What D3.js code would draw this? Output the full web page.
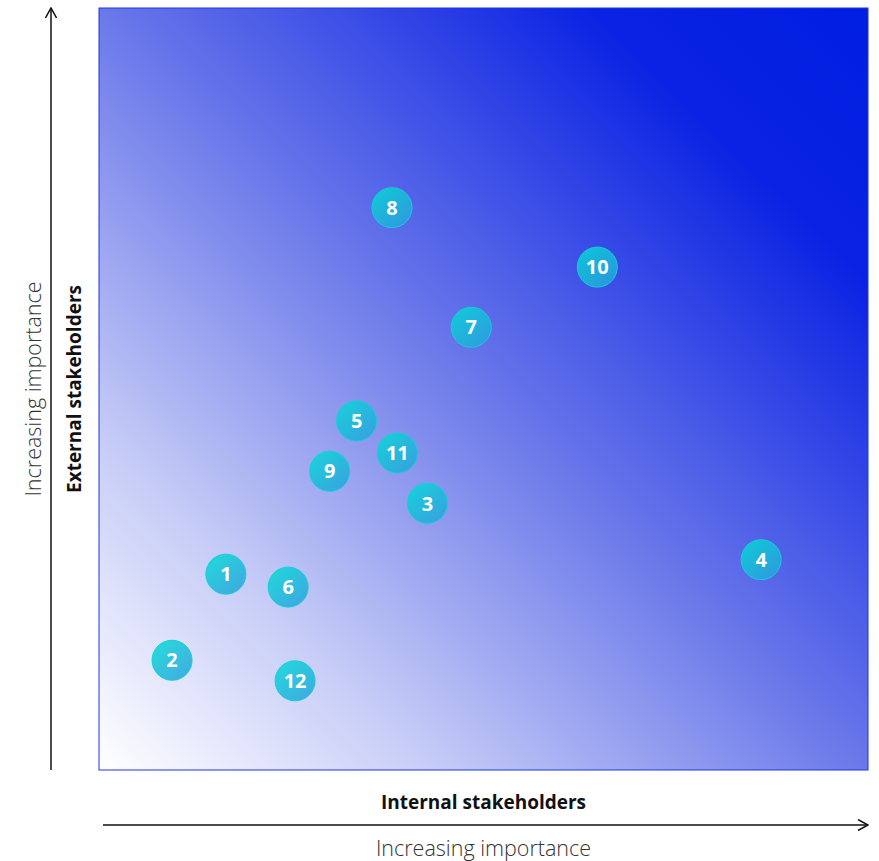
<!DOCTYPE html>
<html>
<head>
<meta charset="utf-8">
<script src="https://cdn.jsdelivr.net/npm/d3@7"></script>
<style>
  html, body { margin: 0; padding: 0; background: #fff; }
  svg { display: block; }
</style>
</head>
<body>
<svg id="chart" width="879" height="861"></svg>
<script>
// Stakeholder materiality matrix: issue ids with internal (x) and external (y) importance
const issueIds      = ["1", "2", "3", "4", "5", "6", "7", "8", "9", "10", "11", "12"];
const internalScore = [1.65, 0.95, 4.27, 8.61, 3.35, 2.46, 4.84, 3.81, 3.00, 6.48, 3.88, 2.55];
const externalScore = [2.57, 1.44, 3.50, 2.76, 4.58, 2.40, 5.81, 7.38, 3.92, 6.60, 4.16, 1.17];

const xTitle = "Internal stakeholders";
const yTitle = "External stakeholders";
const axisNote = "Increasing importance";

const svg = d3.select("#chart");
const plot = { left: 99, top: 8, right: 868, bottom: 770 };

const x = d3.scaleLinear().domain([0, 10]).range([plot.left, plot.right]);
const y = d3.scaleLinear().domain([0, 10]).range([plot.bottom, plot.top]);

const defs = svg.append("defs");

// Background wash: white at low/low corner to deep blue at high/high corner
const bg = defs.append("linearGradient")
  .attr("id", "bgGrad")
  .attr("x1", 0).attr("y1", 1).attr("x2", 1).attr("y2", 0);
[[0, "#ffffff"], [0.22, "#c6ccf7"], [0.5, "#6a78ea"], [0.82, "#0a22e3"], [1, "#001ee0"]]
  .forEach(([o, c]) => bg.append("stop").attr("offset", o).attr("stop-color", c));

// Bubble fill
const bub = defs.append("linearGradient")
  .attr("id", "bubGrad")
  .attr("x1", 0.15).attr("y1", 0.1).attr("x2", 0.85).attr("y2", 0.95);
bub.append("stop").attr("offset", 0).attr("stop-color", "#06d6d6");
bub.append("stop").attr("offset", 1).attr("stop-color", "#26a4dc");

// Arrowhead
defs.append("marker")
  .attr("id", "arrow")
  .attr("viewBox", "0 0 12 12")
  .attr("refX", 11).attr("refY", 6)
  .attr("markerWidth", 12).attr("markerHeight", 12)
  .attr("markerUnits", "userSpaceOnUse")
  .attr("orient", "auto")
  .append("path")
  .attr("d", "M1,0.5 L11,6 L1,11.5")
  .attr("fill", "none")
  .attr("stroke", "#111")
  .attr("stroke-width", 1.5);

// Plot area
svg.append("rect")
  .attr("x", x(0)).attr("y", y(10))
  .attr("width", x(10) - x(0)).attr("height", y(0) - y(10))
  .attr("fill", "url(#bgGrad)")
  .attr("stroke", "#1f35e6")
  .attr("stroke-width", 1);

// Axis arrows
svg.append("line")
  .attr("x1", 51).attr("y1", y(0))
  .attr("x2", 51).attr("y2", y(10))
  .attr("stroke", "#111").attr("stroke-width", 1.5)
  .attr("marker-end", "url(#arrow)");

svg.append("line")
  .attr("x1", x(0) + 4).attr("y1", 825)
  .attr("x2", x(10)).attr("y2", 825)
  .attr("stroke", "#111").attr("stroke-width", 1.5)
  .attr("marker-end", "url(#arrow)");

const font = "'Open Sans', Lato, sans-serif";
const midX = (x(0) + x(10)) / 2;
const midY = (y(0) + y(10)) / 2;

svg.append("text")
  .attr("x", midX).attr("y", 809)
  .attr("text-anchor", "middle")
  .attr("font-family", font).attr("font-weight", 700).attr("font-size", 19)
  .attr("fill", "#111")
  .text(xTitle);

svg.append("text")
  .attr("x", midX).attr("y", 856)
  .attr("text-anchor", "middle")
  .attr("font-family", font).attr("font-weight", 300).attr("font-size", 21.5)
  .attr("fill", "#333")
  .text(axisNote);

svg.append("text")
  .attr("transform", `translate(81,${midY}) rotate(-90)`)
  .attr("text-anchor", "middle")
  .attr("font-family", font).attr("font-weight", 700).attr("font-size", 19)
  .attr("fill", "#111")
  .text(yTitle);

svg.append("text")
  .attr("transform", `translate(41,${midY}) rotate(-90)`)
  .attr("text-anchor", "middle")
  .attr("font-family", font).attr("font-weight", 300).attr("font-size", 21.5)
  .attr("fill", "#333")
  .text(axisNote);

// Bubbles
const data = issueIds.map((id, i) => ({ id, xv: internalScore[i], yv: externalScore[i] }));

const g = svg.append("g")
  .selectAll("g")
  .data(data)
  .join("g")
  .attr("transform", d => `translate(${x(d.xv)},${y(d.yv)})`);

g.append("circle")
  .attr("r", 20)
  .attr("fill", "url(#bubGrad)")
  .attr("fill-opacity", 0.85)
  .attr("stroke", "#14cfd8")
  .attr("stroke-width", 1);

g.append("text")
  .attr("text-anchor", "middle")
  .attr("dy", "0.36em")
  .attr("font-family", font).attr("font-weight", 700).attr("font-size", 20)
  .attr("fill", "#fff")
  .text(d => d.id);
</script>
</body>
</html>
